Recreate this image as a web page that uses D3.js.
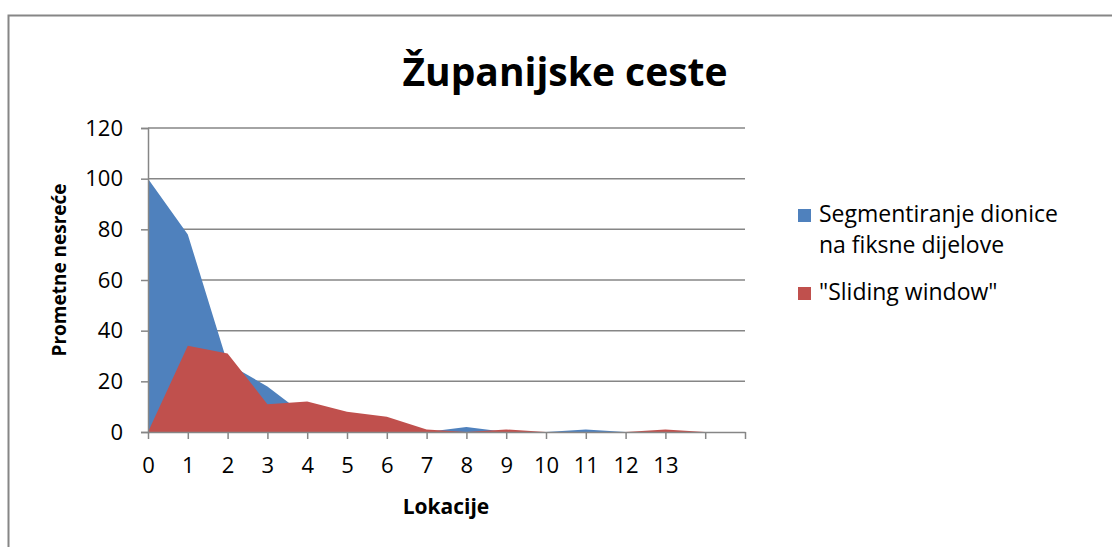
<!DOCTYPE html>
<html>
<head>
<meta charset="utf-8">
<script src="https://cdn.jsdelivr.net/npm/d3@7"></script>
<style>
  body { margin: 0; background: #fff; }
  text { font-family: "Open Sans", "Noto Sans", sans-serif; fill: #000; }
</style>
</head>
<body>
<div id="my_dataviz"></div>
<script>
// data
var categories = [0, 1, 2, 3, 4, 5, 6, 7, 8, 9, 10, 11, 12, 13, 14, 15]
var tickLabels = ["0", "1", "2", "3", "4", "5", "6", "7", "8", "9", "10", "11", "12", "13", "", ""]
var segmentValues = [100, 78, 27, 18, 6, 4, 3, 0, 2, 0, 0, 1, 0, 0, 0, 0]
var slidingValues = [0, 34, 31, 11, 12, 8, 6, 1, 0, 1, 0, 0, 0, 1, 0, 0]
var yTicks = [0, 20, 40, 60, 80, 100, 120]
var seriesNames = ["Segmentiranje dionice|na fiksne dijelove", "\"Sliding window\""]
var colors = ["#4F81BD", "#C0504D"]

var width = 1112
var height = 547
var grey = "#868686"

var svg = d3.select("#my_dataviz")
    .append("svg")
    .attr("width", width)
    .attr("height", height)

// outer chart border (runs off right and bottom of the window)
svg.append("rect")
    .attr("x", 8.5)
    .attr("y", 15.5)
    .attr("width", 1200)
    .attr("height", 600)
    .attr("fill", "none")
    .attr("stroke", grey)
    .attr("stroke-width", 2)

// plot area
var x = d3.scaleLinear().domain([0, 15]).range([148, 745])
var y = d3.scaleLinear().domain([0, 120]).range([432, 128])

// gridlines
svg.append("g")
    .selectAll("line")
    .data(yTicks.filter(function(d) { return d > 0 }))
    .enter()
    .append("line")
    .attr("x1", 148)
    .attr("x2", 745)
    .attr("y1", function(d) { return y(d) })
    .attr("y2", function(d) { return y(d) })
    .attr("stroke", grey)
    .attr("stroke-width", 1.5)

// areas: blue first, red on top
var area = d3.area()
    .x(function(d, i) { return x(categories[i]) })
    .y0(y(0))
    .y1(function(d) { return y(d) })

svg.append("path")
    .datum(segmentValues)
    .attr("d", area)
    .attr("fill", colors[0])

svg.append("path")
    .datum(slidingValues)
    .attr("d", area)
    .attr("fill", colors[1])

// y axis
var yAxis = svg.append("g")
    .attr("transform", "translate(148,0)")
    .call(d3.axisLeft(y).tickValues(yTicks).tickSize(7).tickPadding(18))
yAxis.select(".domain").attr("stroke", grey).attr("stroke-width", 1.5)
yAxis.selectAll(".tick line").attr("stroke", grey).attr("stroke-width", 1.5)
yAxis.selectAll("text")
    .style("font-size", "22px")
    .attr("fill", "#000")

// x axis
var xAxis = svg.append("g")
    .attr("transform", "translate(0," + y(0) + ")")
    .call(d3.axisBottom(x)
        .tickValues(categories)
        .tickFormat(function(d, i) { return tickLabels[i] })
        .tickSize(7)
        .tickPadding(18)
        .tickSizeOuter(0))
xAxis.select(".domain").attr("stroke", grey).attr("stroke-width", 1.5)
xAxis.selectAll(".tick line").attr("stroke", grey).attr("stroke-width", 1.5)
xAxis.selectAll("text")
    .style("font-size", "22px")
    .attr("fill", "#000")

// title
svg.append("text")
    .attr("x", 565)
    .attr("y", 86)
    .attr("text-anchor", "middle")
    .style("font-size", "39px")
    .style("font-weight", "bold")
    .text("Županijske ceste")

// axis titles
svg.append("text")
    .attr("x", 446)
    .attr("y", 514)
    .attr("text-anchor", "middle")
    .style("font-size", "21px")
    .style("font-weight", "bold")
    .text("Lokacije")

svg.append("text")
    .attr("transform", "translate(66,270) rotate(-90)")
    .attr("text-anchor", "middle")
    .style("font-size", "19px")
    .style("font-weight", "bold")
    .text("Prometne nesreće")

// legend
var legendY = [222, 300]
var legend = svg.append("g")
    .selectAll("g")
    .data(seriesNames)
    .enter()
    .append("g")
    .attr("transform", function(d, i) { return "translate(798," + legendY[i] + ")" })

legend.append("rect")
    .attr("x", 0)
    .attr("y", -13)
    .attr("width", 13)
    .attr("height", 13)
    .attr("fill", function(d, i) { return colors[i] })

legend.each(function(d) {
    var lines = d.split("|")
    var t = d3.select(this).append("text")
        .attr("x", 21)
        .attr("y", 0)
        .style("font-size", "23px")
    lines.forEach(function(l, j) {
        t.append("tspan")
            .attr("x", 21)
            .attr("dy", j == 0 ? 0 : 31)
            .text(l)
    })
})
</script>
</body>
</html>
